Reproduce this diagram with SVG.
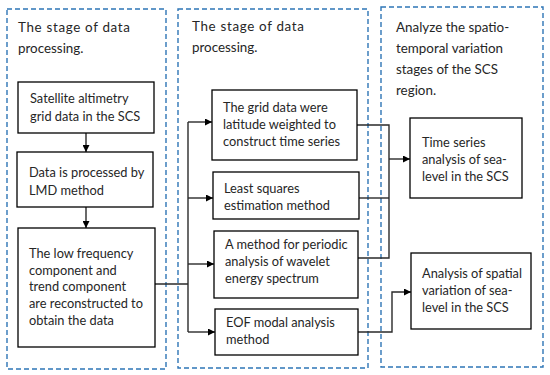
<svg xmlns="http://www.w3.org/2000/svg" width="550" height="375" viewBox="0 0 550 375">
<defs>
<style>
.stage{fill:none;stroke:#2e75b6;stroke-width:1.4;stroke-dasharray:5 3}
.box{fill:#fff;stroke:#000;stroke-width:1.3}
.t{font-family:Lato,"Open Sans",sans-serif;font-size:12.8px;fill:#262626}
.h{font-family:Lato,"Open Sans",sans-serif;font-size:13.4px;fill:#262626}
.c{fill:none;stroke:#2a2a2a;stroke-width:1.4}
</style>
<marker id="ah" viewBox="0 0 10 10" refX="10" refY="5" markerWidth="7" markerHeight="7" markerUnits="userSpaceOnUse" orient="auto">
<path d="M0,0 L10,5 L0,10 z" fill="#000"/>
</marker>
</defs>
<rect width="550" height="375" fill="#fff"/>
<g id="stage1">
<rect class="stage" x="7" y="9" width="159" height="360"/>
<text class="h" x="18" y="32" textLength="112">The stage of data</text>
<text class="h" x="18" y="53">processing.</text>
</g>
<g id="stage2">
<rect class="stage" x="178" y="9" width="190" height="359"/>
<text class="h" x="192" y="31" textLength="112">The stage of data</text>
<text class="h" x="192" y="52">processing.</text>
</g>
<g id="stage3">
<rect class="stage" x="381" y="7" width="162" height="360"/>
<text class="h" x="396" y="32">Analyze the spatio-</text>
<text class="h" x="396" y="53">temporal variation</text>
<text class="h" x="396" y="74">stages of the SCS</text>
<text class="h" x="396" y="95">region.</text>
</g>
<g id="connectors">
<line class="c" x1="86" y1="133" x2="86" y2="152" marker-end="url(#ah)"/>
<line class="c" x1="86" y1="207" x2="86" y2="228" marker-end="url(#ah)"/>
<polyline class="c" points="155,284 188,284"/>
<line class="c" x1="188" y1="122" x2="188" y2="332"/>
<line class="c" x1="188" y1="122" x2="212" y2="122" marker-end="url(#ah)"/>
<line class="c" x1="188" y1="198" x2="213" y2="198" marker-end="url(#ah)"/>
<line class="c" x1="188" y1="264" x2="214" y2="264" marker-end="url(#ah)"/>
<line class="c" x1="188" y1="332" x2="215" y2="332" marker-end="url(#ah)"/>
<polyline class="c" points="357,125 389,125 389,258 358,258"/>
<line class="c" x1="359" y1="198" x2="389" y2="198"/>
<line class="c" x1="389" y1="159" x2="410" y2="159" marker-end="url(#ah)"/>
<polyline class="c" points="358,332 392,332 392,292 411,292" marker-end="url(#ah)"/>
</g>
<g id="n1">
<rect class="box" x="18" y="82" width="136" height="51"/>
<text class="t" x="30" y="103">Satellite altimetry</text>
<text class="t" x="30" y="121">grid data in the SCS</text>
</g>
<g id="n2">
<rect class="box" x="17" y="152" width="136" height="55"/>
<text class="t" x="29" y="177">Data is processed by</text>
<text class="t" x="29" y="195">LMD method</text>
</g>
<g id="n3">
<rect class="box" x="18" y="228" width="137" height="119"/>
<text class="t" x="29" y="258">The low frequency</text>
<text class="t" x="29" y="275">component and</text>
<text class="t" x="29" y="291">trend component</text>
<text class="t" x="29" y="308">are reconstructed to</text>
<text class="t" x="29" y="325">obtain the data</text>
</g>
<g id="g1">
<rect class="box" x="212" y="90" width="145" height="70"/>
<text class="t" x="223" y="112">The grid data were</text>
<text class="t" x="223" y="129">latitude weighted to</text>
<text class="t" x="223" y="146">construct time series</text>
</g>
<g id="g2">
<rect class="box" x="213" y="172" width="146" height="47"/>
<text class="t" x="224" y="193">Least squares</text>
<text class="t" x="224" y="210">estimation method</text>
</g>
<g id="g3">
<rect class="box" x="214" y="231" width="144" height="67"/>
<text class="t" x="225" y="249">A method for periodic</text>
<text class="t" x="225" y="266">analysis of wavelet</text>
<text class="t" x="225" y="283">energy spectrum</text>
</g>
<g id="g4">
<rect class="box" x="215" y="309" width="143" height="46"/>
<text class="t" x="226" y="327">EOF modal analysis</text>
<text class="t" x="226" y="344">method</text>
</g>
<g id="t1">
<rect class="box" x="410" y="118" width="112" height="80"/>
<text class="t" x="422" y="147">Time series</text>
<text class="t" x="422" y="164">analysis of sea-</text>
<text class="t" x="422" y="181">level in the SCS</text>
</g>
<g id="t2">
<rect class="box" x="411" y="253" width="120" height="76"/>
<text class="t" x="422" y="278">Analysis of spatial</text>
<text class="t" x="422" y="295">variation of sea-</text>
<text class="t" x="422" y="312">level in the SCS</text>
</g>
</svg>
